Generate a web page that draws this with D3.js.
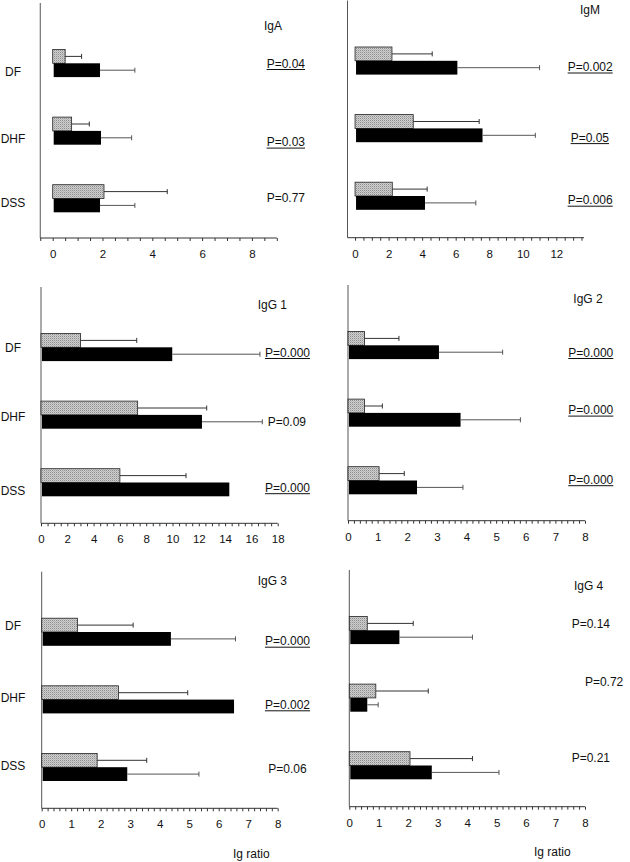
<!DOCTYPE html>
<html>
<head>
<meta charset="utf-8">
<script src="https://cdn.jsdelivr.net/npm/d3@7"></script>
<style>
  html, body { margin: 0; padding: 0; background: #fff; }
  svg { display: block; font-family: "Liberation Sans", Arial, sans-serif; }
</style>
</head>
<body>
<svg id="chart" width="630" height="862"></svg>
<script>
// ---------------- DATA ----------------
const categories = ["DF", "DHF", "DSS"];
const panelNames = ["IgA", "IgM", "IgG 1", "IgG 2", "IgG 3", "IgG 4"];
// gray (stippled) bars and upper error ends
const grayValues  = [[0.5, 0.76, 2.06], [2.2, 3.47, 2.22], [3.0, 7.35, 6.0], [0.56, 0.56, 1.05], [1.21, 2.6, 1.88], [0.61, 0.9, 2.06]];
const grayErrHigh = [[1.16, 1.47, 4.6], [4.6, 7.4, 4.3], [7.28, 12.6, 11.03], [1.72, 1.16, 1.9], [3.1, 4.95, 3.56], [2.17, 2.68, 4.18]];
// black bars and upper error ends
const blackValues  = [[1.9, 1.94, 1.9], [6.1, 7.6, 4.17], [9.98, 12.24, 14.32], [3.07, 3.8, 2.33], [4.38, 6.52, 2.9], [1.7, 0.61, 2.8]];
const blackErrHigh = [[3.3, 3.17, 3.3], [11.0, 10.75, 7.2], [16.65, 16.83, null], [5.22, 5.82, 3.88], [6.57, null, 5.33], [4.18, 0.98, 5.08]];
const pLabels = [
  ["P=0.04", "P=0.03", "P=0.77"],
  ["P=0.002", "P=0.05", "P=0.006"],
  ["P=0.000", "P=0.09", "P=0.000"],
  ["P=0.000", "P=0.000", "P=0.000"],
  ["P=0.000", "P=0.002", "P=0.06"],
  ["P=0.14", "P=0.72", "P=0.21"]
];
const pUnderlined = [
  [true, true, false], [true, true, true], [true, false, true],
  [true, true, true], [true, true, false], [false, false, false]
];
const xDomains = [[-0.5, 9], [-0.45, 13.65], [0, 18], [0, 8], [0, 8], [0, 8]];
const majorTicks = [
  [0, 2, 4, 6, 8],
  [0, 2, 4, 6, 8, 10, 12],
  [0, 2, 4, 6, 8, 10, 12, 14, 16, 18],
  [0, 1, 2, 3, 4, 5, 6, 7, 8],
  [0, 1, 2, 3, 4, 5, 6, 7, 8],
  [0, 1, 2, 3, 4, 5, 6, 7, 8]
];
const minorStep = [0.5, 0.5, 0.5, 0.2, 0.2, 0.2];
const axisTitle = "Ig ratio";

// ---------------- LAYOUT ----------------
const layout = [
  { x0: 40.25, x1: 276.8, top: 3,     bottom: 238,   title: [282, 30],     pRight: [305, 305, 305],       pDy: [0, 11, -1],  catDy: [8, 8, 4] },
  { x0: 347.5, x1: 584,   top: 0.5,   bottom: 237.7, title: [600, 14],     pRight: [612.7, 609, 612.7],   pDy: [6, 9, 4],    catDy: null },
  { x0: 41,    x1: 277.7, top: 287,   bottom: 523.3, title: [287, 309.3],  pRight: [310, 306, 310],       pDy: [5, 7, 5],    catDy: [0, 2, 8] },
  { x0: 348,   x1: 585,   top: 285,   bottom: 520.7, title: [602.7, 302.7],pRight: [613.3, 613.3, 613.3], pDy: [7, -3, -1],  catDy: null },
  { x0: 41.7,  x1: 277.7, top: 571.7, bottom: 808.3, title: [287, 585],    pRight: [310, 310, 306.7],     pDy: [9, 5, 2],    catDy: [-6, -2, -2] },
  { x0: 349.3, x1: 585,   top: 570,   bottom: 806.7, title: [603.3, 590],  pRight: [610, 623.3, 610],     pDy: [-7, -16, -8],catDy: null }
];
const barH = 13.8;

const svg = d3.select("#chart");
const defs = svg.append("defs");
const pat = defs.append("pattern").attr("id", "stip")
  .attr("width", 2).attr("height", 2).attr("patternUnits", "userSpaceOnUse");
pat.append("rect").attr("width", 2).attr("height", 2).attr("fill", "#cfcfcf");
pat.append("rect").attr("width", 1).attr("height", 1).attr("fill", "#8e8e8e");
pat.append("rect").attr("x", 1).attr("y", 1).attr("width", 1).attr("height", 1).attr("fill", "#b4b4b4");

panelNames.forEach((name, i) => {
  const L = layout[i];
  const g = svg.append("g");
  const x = d3.scaleLinear().domain(xDomains[i]).range([L.x0, L.x1]);
  const y = d3.scalePoint().domain(categories).range([L.top + 60.3, L.top + 195.5]);

  // y axis line
  g.append("line").attr("x1", L.x0).attr("x2", L.x0)
    .attr("y1", L.top).attr("y2", L.bottom)
    .attr("stroke", "#555").attr("stroke-width", 1);

  // x axis with minor ticks
  const lo = Math.ceil(xDomains[i][0] / minorStep[i] - 1e-9);
  const hi = Math.floor(xDomains[i][1] / minorStep[i] + 1e-9);
  const tv = d3.range(lo, hi + 1).map(k => +(k * minorStep[i]).toFixed(4));
  const majors = new Set(majorTicks[i]);
  const ax = d3.axisBottom(x).tickValues(tv).tickSize(3).tickPadding(9)
    .tickFormat(d => majors.has(d) ? String(d) : "");
  const axg = g.append("g").attr("transform", `translate(0,${L.bottom})`).call(ax);
  axg.select(".domain").attr("stroke", "#333").attr("d", `M${L.x0},0H${L.x1}`);
  axg.selectAll(".tick line").attr("stroke", "#333");
  axg.selectAll(".tick text").attr("font-size", 11.5).attr("fill", "#111")
    .attr("font-family", "'Liberation Sans', Arial, sans-serif");

  // bars
  categories.forEach((c, j) => {
    const cy = y(c);
    // gray
    g.append("rect").attr("x", x(0)).attr("y", cy - barH)
      .attr("width", x(grayValues[i][j]) - x(0)).attr("height", barH)
      .attr("fill", "url(#stip)").attr("stroke", "#222").attr("stroke-width", 0.8);
    // black
    g.append("rect").attr("x", x(0) + 1).attr("y", cy)
      .attr("width", x(blackValues[i][j]) - x(0) - 1).attr("height", barH)
      .attr("fill", "#000");

    // error bars
    const errs = [
      { v: grayValues[i][j], e: grayErrHigh[i][j], yc: cy - barH / 2, col: "#333" },
      { v: blackValues[i][j], e: blackErrHigh[i][j], yc: cy + barH / 2, col: "#555" }
    ];
    errs.forEach(o => {
      if (o.e == null) return;
      g.append("line").attr("x1", x(o.v)).attr("x2", x(o.e))
        .attr("y1", o.yc).attr("y2", o.yc).attr("stroke", o.col).attr("stroke-width", 1);
      g.append("line").attr("x1", x(o.e)).attr("x2", x(o.e))
        .attr("y1", o.yc - 2.5).attr("y2", o.yc + 2.5).attr("stroke", o.col).attr("stroke-width", 1);
    });

    // p-value
    const py = cy + L.pDy[j] + 4.2;
    const t = g.append("text").attr("x", L.pRight[j]).attr("y", py)
      .attr("text-anchor", "end").attr("font-size", 12).attr("fill", "#111")
      .text(pLabels[i][j]);
    if (pUnderlined[i][j]) {
      const w = t.node().getComputedTextLength();
      g.append("line").attr("x1", L.pRight[j] - w).attr("x2", L.pRight[j])
        .attr("y1", py + 2).attr("y2", py + 2).attr("stroke", "#111").attr("stroke-width", 1);
    }

    // category label (left column only)
    if (L.catDy) {
      g.append("text").attr("x", 13).attr("y", cy + L.catDy[j] + 4.3)
        .attr("text-anchor", "middle").attr("font-size", 12).attr("fill", "#111")
        .text(c);
    }
  });

  // panel title
  g.append("text").attr("x", L.title[0]).attr("y", L.title[1])
    .attr("text-anchor", "end").attr("font-size", 12).attr("fill", "#111").text(name);
});

// x axis titles under bottom panels
[[233, 857.5], [534, 856]].forEach(p => {
  svg.append("text").attr("x", p[0]).attr("y", p[1])
    .attr("font-size", 12).attr("fill", "#111").text(axisTitle);
});
</script>
</body>
</html>
